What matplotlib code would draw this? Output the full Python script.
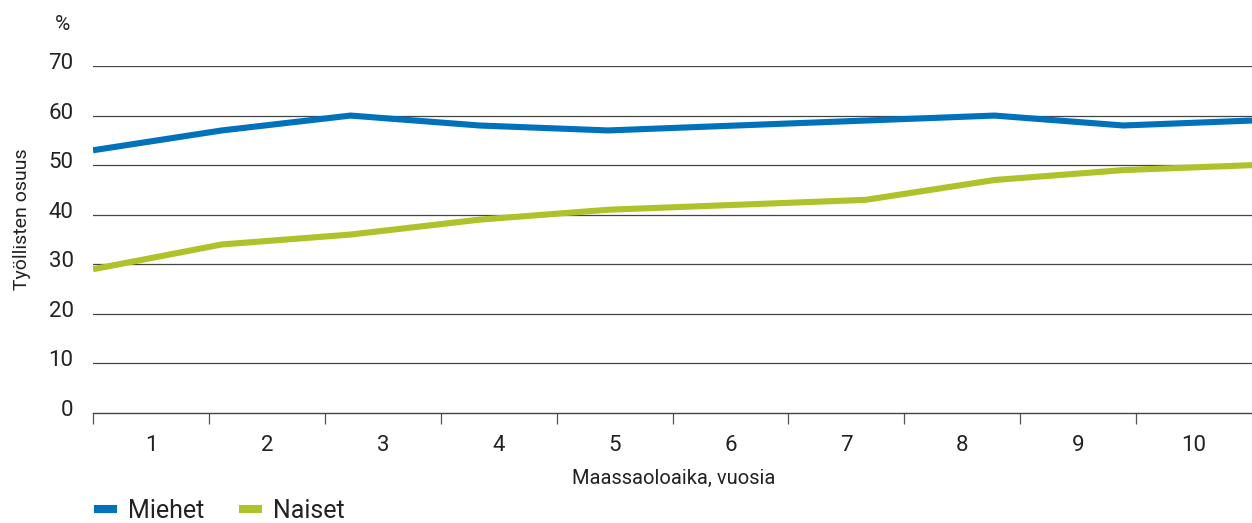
import matplotlib
matplotlib.use("Agg")
import matplotlib.pyplot as plt
import matplotlib.transforms as mtransforms
import numpy as np

years = ["1", "2", "3", "4", "5", "6", "7", "8", "9", "10"]
miehet = [53, 57, 60, 58, 57, 58, 59, 60, 58, 59]
naiset = [29, 34, 36, 39, 41, 42, 43, 47, 49, 50]
yticks = [0, 10, 20, 30, 40, 50, 60, 70]

BLUE = "#0072bc"
GREEN = "#afc22a"
TXT = "#222222"

plt.rcParams["font.family"] = ["Roboto", "DejaVu Sans"]

fig = plt.figure(figsize=(12.52, 5.23), dpi=100)
ax = fig.add_axes([93/1252, 110/523, (1252-93)/1252, 347/523])

# lines span the full width, labels sit in the category bands
x = np.linspace(0, len(years), len(years))
ax.plot(x, miehet, color=BLUE, lw=4.4, solid_capstyle="butt", label="Miehet", zorder=3)
ax.plot(x, naiset, color=GREEN, lw=4.4, solid_capstyle="butt", label="Naiset", zorder=3)

ax.set_xlim(0, len(years))
ax.set_ylim(0, 70)

for v in yticks[1:]:
    ax.axhline(v, color="#444444", lw=0.9, zorder=1)

for s in ["top", "right", "left"]:
    ax.spines[s].set_visible(False)
ax.spines["bottom"].set_color("#444444")
ax.spines["bottom"].set_linewidth(1.0)

ax.set_xticks(np.arange(len(years)))
ax.set_xticklabels([])
ax.tick_params(axis="x", which="major", length=8, width=0.9, color="#555555", direction="out")
ax.set_xticks(np.arange(len(years)) + 0.5, minor=True)
ax.set_xticklabels(years, minor=True)
ax.tick_params(axis="x", which="minor", length=0, pad=16, labelsize=16, labelcolor=TXT)

ax.set_yticks(yticks)
ax.set_yticklabels([str(v) for v in yticks])
ax.tick_params(axis="y", length=0, pad=14, labelsize=16, labelcolor=TXT)
off = mtransforms.ScaledTranslation(0, 5/100, fig.dpi_scale_trans)
for lab in ax.get_yticklabels():
    lab.set_transform(lab.get_transform() + off)

fig.text(62/1252, 1 - 25/523, "%", ha="center", va="center", fontsize=15, color=TXT)
fig.text(22/1252, 1 - 219/523, "Työllisten osuus", rotation=90, ha="center", va="center",
         fontsize=14, color=TXT)
fig.text(674/1252, 1 - 478/523, "Maassaoloaika, vuosia", ha="center", va="center",
         fontsize=14.5, color=TXT)

leg = fig.legend(loc="lower left", bbox_to_anchor=(84/1252, -0.019), ncol=2, frameon=False,
                 fontsize=18, handlelength=0.9, handletextpad=0.45, columnspacing=1.4,
                 borderaxespad=0)
for h in leg.get_lines():
    h.set_linewidth(5.8)
for t in leg.get_texts():
    t.set_color(TXT)

fig.savefig("out.png", dpi=100)
